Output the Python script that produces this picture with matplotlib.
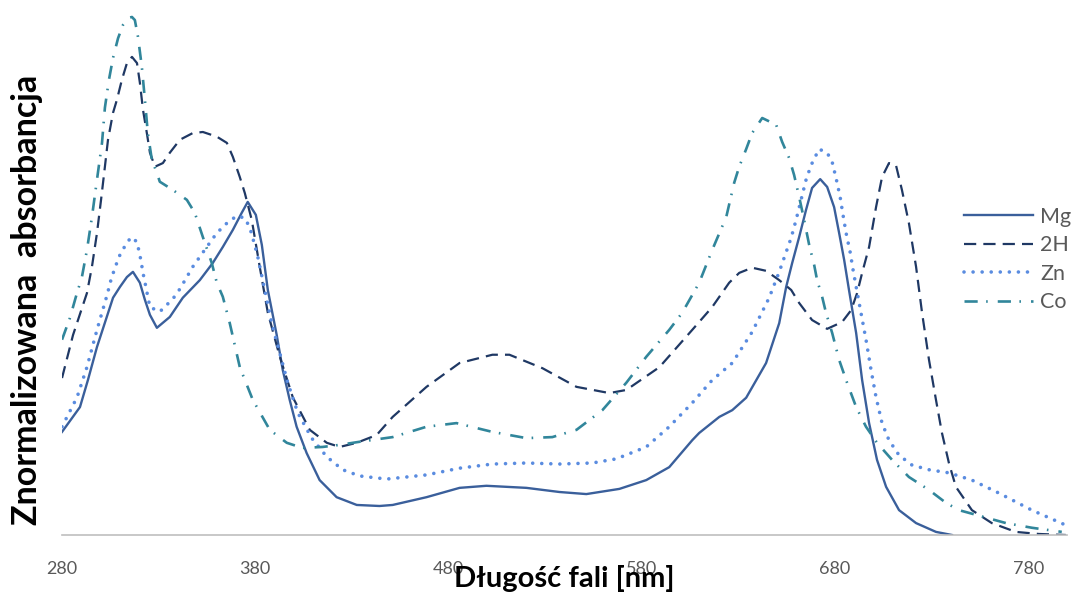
import numpy as np
import matplotlib
matplotlib.use('Agg')
import matplotlib.pyplot as plt

plt.rcParams['font.family'] = ['Lato', 'DejaVu Sans']

# długość fali [nm] i znormalizowana absorbancja
mg_nm = [280.0, 289.3, 293.4, 298.1, 306.4, 310.0, 313.6, 316.7, 320.3, 322.9, 325.5, 329.1,
         335.8, 342.5, 351.3, 358.0, 363.2, 368.4, 373.0, 376.1, 380.3, 383.4, 386.5, 391.1,
         394.2, 397.8, 401.4, 406.6, 413.3, 422.1, 432.5, 444.3, 451.1, 468.6, 485.7, 499.6,
         520.3, 537.4, 551.3, 568.4, 582.3, 594.2, 606.1, 609.7, 620.1, 626.8, 634.0, 644.3,
         651.1, 654.7, 657.8, 661.4, 665.0, 668.1, 672.3, 675.9, 679.5, 682.1, 684.7, 687.2,
         690.9, 694.0, 697.6, 701.7, 706.4, 713.1, 721.9, 732.2, 740.5]
mg_abs = [0.199, 0.247, 0.299, 0.363, 0.458, 0.479, 0.498, 0.508, 0.487, 0.454, 0.425, 0.400,
          0.421, 0.458, 0.492, 0.525, 0.556, 0.589, 0.622, 0.643, 0.618, 0.560, 0.473, 0.386,
          0.319, 0.261, 0.209, 0.158, 0.106, 0.073, 0.058, 0.056, 0.058, 0.073, 0.091, 0.095,
          0.091, 0.083, 0.079, 0.089, 0.106, 0.131, 0.183, 0.197, 0.228, 0.241, 0.265, 0.332,
          0.409, 0.479, 0.525, 0.575, 0.628, 0.670, 0.687, 0.672, 0.633, 0.583, 0.531, 0.473,
          0.390, 0.299, 0.216, 0.145, 0.093, 0.048, 0.023, 0.006, 0.0]

h2_nm = [280.0, 285.7, 292.9, 295.5, 298.1, 300.2, 302.2, 303.8, 306.4, 308.4, 311.0, 313.6,
         316.2, 318.8, 320.3, 321.9, 323.9, 325.5, 328.1, 332.2, 335.8, 341.0, 347.7, 352.9,
         360.1, 365.3, 368.4, 372.0, 374.6, 378.2, 382.3, 386.5, 392.7, 399.4, 408.2, 417.0,
         423.7, 432.5, 442.8, 451.1, 468.6, 485.7, 502.7, 511.5, 528.6, 546.2, 563.2, 572.0,
         589.1, 606.1, 616.4, 625.2, 630.4, 637.1, 644.3, 651.1, 657.3, 661.4, 668.1, 675.9,
         683.6, 688.3, 691.4, 694.0, 697.6, 701.2, 704.3, 707.9, 711.5, 714.6, 718.2, 721.9,
         725.0, 728.6, 732.2, 735.3, 738.9, 742.5, 750.8, 761.1, 773.5, 785.4, 799.4]
h2_abs = [0.303, 0.386, 0.467, 0.518, 0.583, 0.647, 0.711, 0.763, 0.815, 0.840, 0.879, 0.911,
          0.923, 0.911, 0.873, 0.821, 0.776, 0.738, 0.711, 0.718, 0.738, 0.763, 0.776, 0.778,
          0.769, 0.757, 0.730, 0.691, 0.660, 0.608, 0.518, 0.429, 0.344, 0.266, 0.203, 0.178,
          0.170, 0.178, 0.193, 0.228, 0.286, 0.332, 0.348, 0.348, 0.322, 0.286, 0.274, 0.280,
          0.324, 0.396, 0.440, 0.487, 0.506, 0.516, 0.510, 0.492, 0.473, 0.448, 0.415, 0.398,
          0.411, 0.434, 0.467, 0.506, 0.556, 0.633, 0.691, 0.718, 0.714, 0.666, 0.602, 0.518,
          0.429, 0.338, 0.261, 0.197, 0.139, 0.093, 0.048, 0.023, 0.006, 0.002, 0.0]

zn_nm = [280.0, 287.8, 292.9, 298.1, 303.3, 305.3, 307.4, 310.0, 312.6, 315.7, 318.8, 320.8,
         321.9, 323.4, 324.4, 325.5, 330.6, 337.4, 341.0, 347.7, 354.9, 360.1, 365.3, 370.4,
         374.6, 377.2, 379.7, 381.3, 384.9, 388.5, 392.7, 396.8, 402.0, 409.2, 417.0, 425.2,
         434.0, 448.0, 468.6, 485.7, 502.7, 520.3, 537.4, 554.4, 566.8, 582.3, 594.2, 606.1,
         616.4, 626.8, 637.1, 645.9, 651.1, 654.2, 657.3, 659.8, 662.4, 665.0, 667.6, 671.7,
         675.9, 678.5, 680.5, 682.6, 684.1, 685.7, 687.8, 689.3, 690.9, 693.4, 696.0, 698.6,
         701.2, 704.3, 707.9, 713.1, 719.8, 728.6, 738.9, 750.8, 764.7, 781.8, 799.4]
zn_abs = [0.209, 0.266, 0.324, 0.396, 0.463, 0.492, 0.516, 0.541, 0.558, 0.575, 0.566, 0.531,
          0.506, 0.479, 0.460, 0.440, 0.431, 0.456, 0.475, 0.518, 0.556, 0.583, 0.602, 0.616,
          0.612, 0.593, 0.560, 0.537, 0.473, 0.409, 0.351, 0.294, 0.236, 0.187, 0.151, 0.126,
          0.114, 0.108, 0.116, 0.129, 0.137, 0.139, 0.137, 0.139, 0.147, 0.170, 0.209, 0.255,
          0.299, 0.332, 0.392, 0.458, 0.508, 0.541, 0.574, 0.608, 0.647, 0.686, 0.714, 0.745,
          0.738, 0.720, 0.689, 0.653, 0.618, 0.583, 0.546, 0.512, 0.479, 0.429, 0.377, 0.319,
          0.266, 0.216, 0.183, 0.154, 0.135, 0.126, 0.120, 0.106, 0.081, 0.048, 0.019]

co_nm = [280.0, 284.1, 287.2, 290.3, 292.9, 295.5, 298.1, 300.7, 302.2, 304.3, 306.4, 309.0,
         311.6, 314.1, 316.2, 317.7, 319.3, 321.3, 322.9, 324.4, 326.5, 329.1, 330.6, 337.4,
         344.6, 348.7, 352.9, 357.5, 360.1, 363.2, 366.8, 372.0, 378.7, 387.5, 396.3, 404.5,
         414.9, 423.7, 434.0, 451.1, 468.6, 484.1, 502.7, 520.3, 533.7, 546.2, 559.6, 572.0,
         582.3, 594.2, 600.9, 609.7, 616.4, 623.7, 627.8, 630.4, 634.0, 637.1, 642.3, 649.5,
         652.6, 656.2, 658.8, 661.4, 664.0, 666.6, 669.2, 670.7, 673.3, 675.3, 678.5, 682.1,
         686.2, 690.9, 696.0, 701.7, 709.5, 718.2, 728.6, 737.4, 744.1, 752.9, 768.4, 781.8,
         797.3]
co_abs = [0.377, 0.419, 0.460, 0.498, 0.550, 0.614, 0.686, 0.757, 0.825, 0.879, 0.921, 0.959,
          0.985, 0.998, 1.000, 0.994, 0.962, 0.904, 0.840, 0.776, 0.724, 0.699, 0.682, 0.666,
          0.647, 0.622, 0.575, 0.525, 0.487, 0.460, 0.409, 0.324, 0.261, 0.203, 0.178, 0.168,
          0.170, 0.174, 0.180, 0.189, 0.209, 0.216, 0.199, 0.187, 0.189, 0.203, 0.241, 0.294,
          0.344, 0.396, 0.429, 0.487, 0.550, 0.614, 0.680, 0.711, 0.745, 0.776, 0.805, 0.792,
          0.759, 0.728, 0.695, 0.653, 0.608, 0.560, 0.521, 0.492, 0.460, 0.429, 0.390, 0.338,
          0.294, 0.247, 0.209, 0.178, 0.145, 0.112, 0.087, 0.062, 0.048, 0.039, 0.023, 0.014,
          0.006]

x_ticks = [280, 380, 480, 580, 680, 780]

fig = plt.figure(figsize=(10.74, 5.95), dpi=100)
ax = fig.add_axes([62 / 1074, 60 / 595, 1005 / 1074, 525 / 595])

ax.plot(mg_nm, mg_abs, color='#3A5F9B', lw=1.7, solid_joinstyle='round', label='Mg')
ax.plot(h2_nm, h2_abs, color='#1F3864', lw=1.6, linestyle=(0, (5.5, 3.2)), label='2H')
ax.plot(zn_nm, zn_abs, color='#5A8CE0', lw=2.6, linestyle=(0, (0.01, 2.5)),
        dash_capstyle='round', label='Zn')
ax.plot(co_nm, co_abs, color='#31869B', lw=1.9, linestyle=(0, (5, 3.2, 0.6, 3.8)), label='Co')

ax.set_xlim(280, 800)
ax.set_ylim(0, 525 / 518)
ax.set_xticks(x_ticks)
ax.set_yticks([])
ax.tick_params(axis='x', length=0, pad=19, labelsize=13, labelcolor='#595959')
for s in ['top', 'right', 'left']:
    ax.spines[s].set_visible(False)
ax.spines['bottom'].set_color('#BFBFBF')
ax.spines['bottom'].set_linewidth(1.2)

fig.text(27 / 1074, 1 - 300 / 595, 'Znormalizowana  absorbancja', rotation=90,
         ha='center', va='center', fontsize=24.5, fontweight='bold', color='black')
fig.text(564 / 1074, 1 - 579 / 595, 'Długość fali [nm]', ha='center', va='center',
         fontsize=21, fontweight='bold', color='black')

leg = fig.legend(loc='upper left', bbox_to_anchor=(955 / 1074, 1 - 198 / 595),
                 frameon=False, fontsize=15.5, handlelength=3.2, handletextpad=0.35,
                 labelspacing=0.4, borderaxespad=0)
for t in leg.get_texts():
    t.set_color('#595959')

plt.savefig('out.png', dpi=100)
